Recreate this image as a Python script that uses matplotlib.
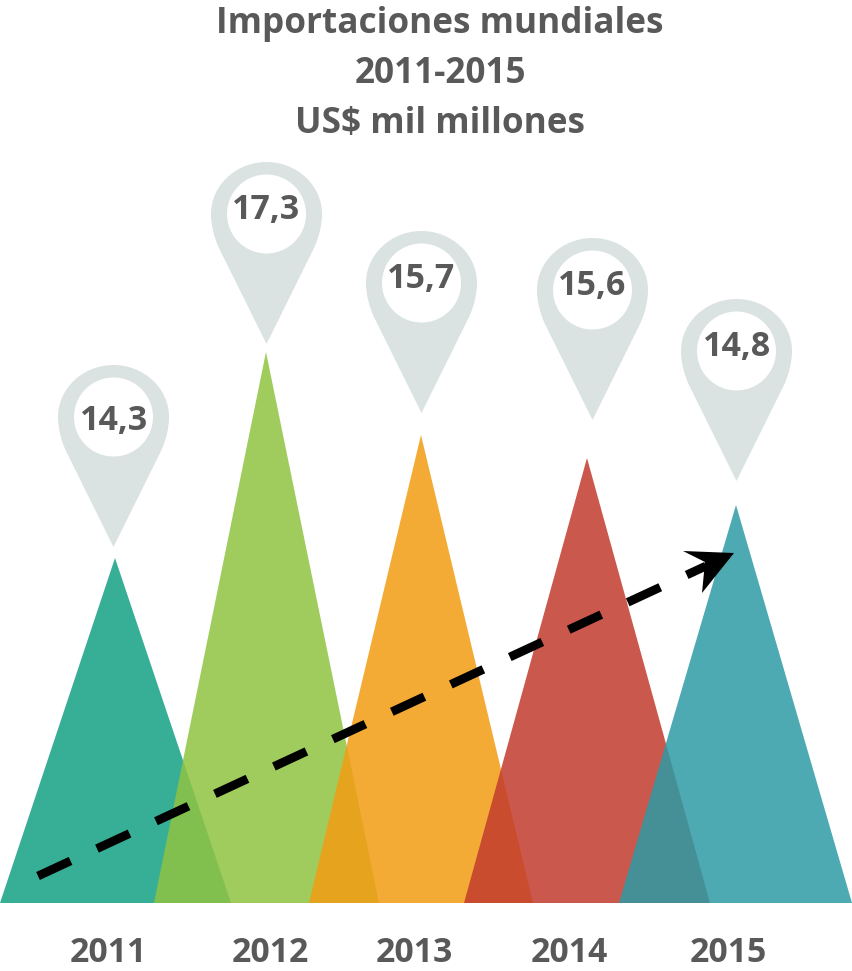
import matplotlib
matplotlib.use("Agg")
import matplotlib.pyplot as plt
from matplotlib.patches import Polygon, Circle, PathPatch
from matplotlib.path import Path
from matplotlib.lines import Line2D

# --- data ---
years = ["2011", "2012", "2013", "2014", "2015"]
values = ["14,3", "17,3", "15,7", "15,6", "14,8"]
peak_heights = [345, 551, 468, 445, 398]          # drawn height of each peak
title_lines = ["Importaciones mundiales", "2011-2015", "US$ mil millones"]

# --- layout (pixels) ---
W, H = 852, 971
BASE = 903
apex_x = [115, 266, 421, 587, 736]
base_left = [0, 154, 309, 464, 619]
base_right = [231, 379, 533, 710, 852]
pin_x = [113.5, 266.5, 421.5, 592.5, 736.5]
pin_top = [365, 162, 231, 238, 299]
value_x = [114, 266.5, 421.5, 592.5, 737]
value_y = [421, 210, 279, 286, 347]
year_x = [108, 270, 414, 569, 728]
colors = ["#14A184", "#8FC342", "#F29C13", "#C23B2D", "#2E9AA5"]
ALPHA = 0.85
TEXT = "#595959"
PIN = "#DAE2E2"
FONT = "Open Sans"

fig = plt.figure(figsize=(W / 100, H / 100), dpi=100)
ax = fig.add_axes([0, 0, 1, 1])
ax.set_xlim(0, W)
ax.set_ylim(H, 0)
ax.axis("off")

for i in range(len(years)):
    ax.add_patch(Polygon([(base_left[i], BASE), (apex_x[i], BASE - peak_heights[i]),
                          (base_right[i], BASE)], closed=True, fc=colors[i], ec="none",
                         alpha=ALPHA, zorder=2 + i * 0.1))

def pin(cx, top):
    cy = top + 52
    verts = [(0, -52), (30, -52), (55.5, -29), (55.5, 0),
             (55.5, 12), (52, 24), (48, 33),
             (0, 130),
             (-48, 33),
             (-52, 24), (-55.5, 12), (-55.5, 0),
             (-55.5, -29), (-30, -52), (0, -52), (0, -52)]
    codes = [Path.MOVETO, Path.CURVE4, Path.CURVE4, Path.CURVE4,
             Path.CURVE4, Path.CURVE4, Path.CURVE4,
             Path.LINETO,
             Path.LINETO,
             Path.CURVE4, Path.CURVE4, Path.CURVE4,
             Path.CURVE4, Path.CURVE4, Path.CURVE4, Path.CLOSEPOLY]
    ax.add_patch(PathPatch(Path([(cx + x, cy + y) for x, y in verts], codes),
                           fc=PIN, ec="none", zorder=3))
    ax.add_patch(Circle((cx, cy), 39.5, fc="white", ec="none", zorder=4))

for i in range(len(years)):
    pin(pin_x[i], pin_top[i])
    ax.text(value_x[i], value_y[i], values[i], ha="center", va="center", fontsize=24.5,
            fontweight="bold", color=TEXT, family=FONT, zorder=5)
    ax.text(year_x[i], 953.5, years[i], ha="center", va="center", fontsize=24.3,
            fontweight="bold", color=TEXT, family=FONT)

for y, line in zip([24, 74, 124], title_lines):
    ax.text(440, y, line, ha="center", va="center", fontsize=25.3, fontweight="bold",
            color=TEXT, family=FONT)

# trend arrow
ax.add_line(Line2D([38, 706], [876, 566], color="black", lw=6.3, solid_capstyle="butt",
                   dash_capstyle="butt", dashes=(4.1, 3.33), zorder=6))
ax.add_patch(Polygon([(683, 551), (734, 553), (702, 593), (705, 562)], closed=True,
                     fc="black", ec="none", zorder=6))

fig.savefig("out.png", dpi=100)
